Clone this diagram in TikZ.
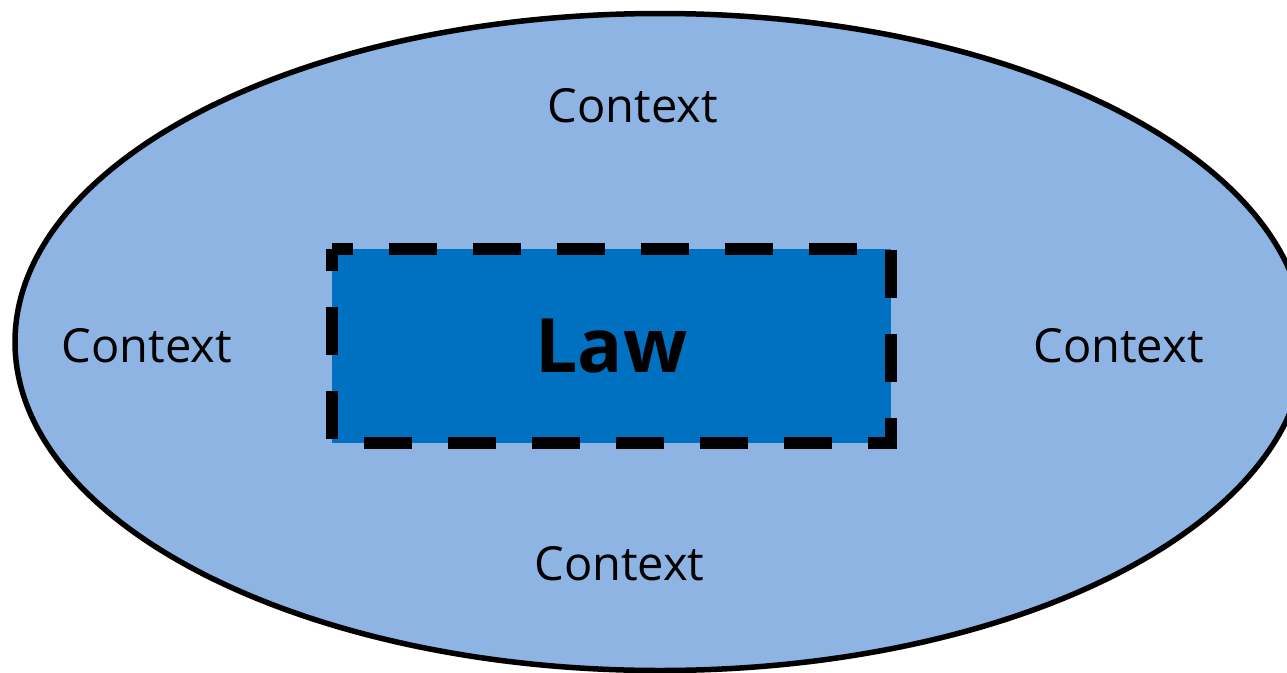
\documentclass[tikz,border=0pt]{standalone}
\usepackage{fontspec}
\setmainfont{Open Sans}
\definecolor{ctxblue}{RGB}{142,180,227}
\definecolor{lawblue}{RGB}{0,112,192}
\tikzset{
  ctx/.style={anchor=base, inner sep=0pt, font=\fontsize{47}{56}\selectfont},
  lawbox/.style={fill=lawblue, inner sep=0pt, minimum width=559pt, minimum height=194pt,
    font=\fontsize{75}{90}\selectfont\bfseries},
  dashborder/.style={line width=12pt, dash pattern=on 48pt off 36pt, dash phase=27pt, line join=miter},
}
\begin{document}
\begin{tikzpicture}[x=1pt,y=-1pt]
\useasboundingbox (0,0) rectangle (1287,672);
\clip (0,0) rectangle (1287,672);
\draw[fill=ctxblue, line width=5.5pt] (660,342) ellipse [x radius=645, y radius=328.5];
\node[lawbox] (law) at (611.5,346) {Law};
\draw[dashborder] (law.north west) -- (law.north east) -- (law.south east) -- (law.south west) -- cycle;
\node[ctx] (ctxtop) at (633,122) {Context};
\node[ctx] (ctxleft) at (147,362) {Context};
\node[ctx] (ctxright) at (1118.5,362) {Context};
\node[ctx] (ctxbottom) at (619.5,580) {Context};
\end{tikzpicture}
\end{document}
